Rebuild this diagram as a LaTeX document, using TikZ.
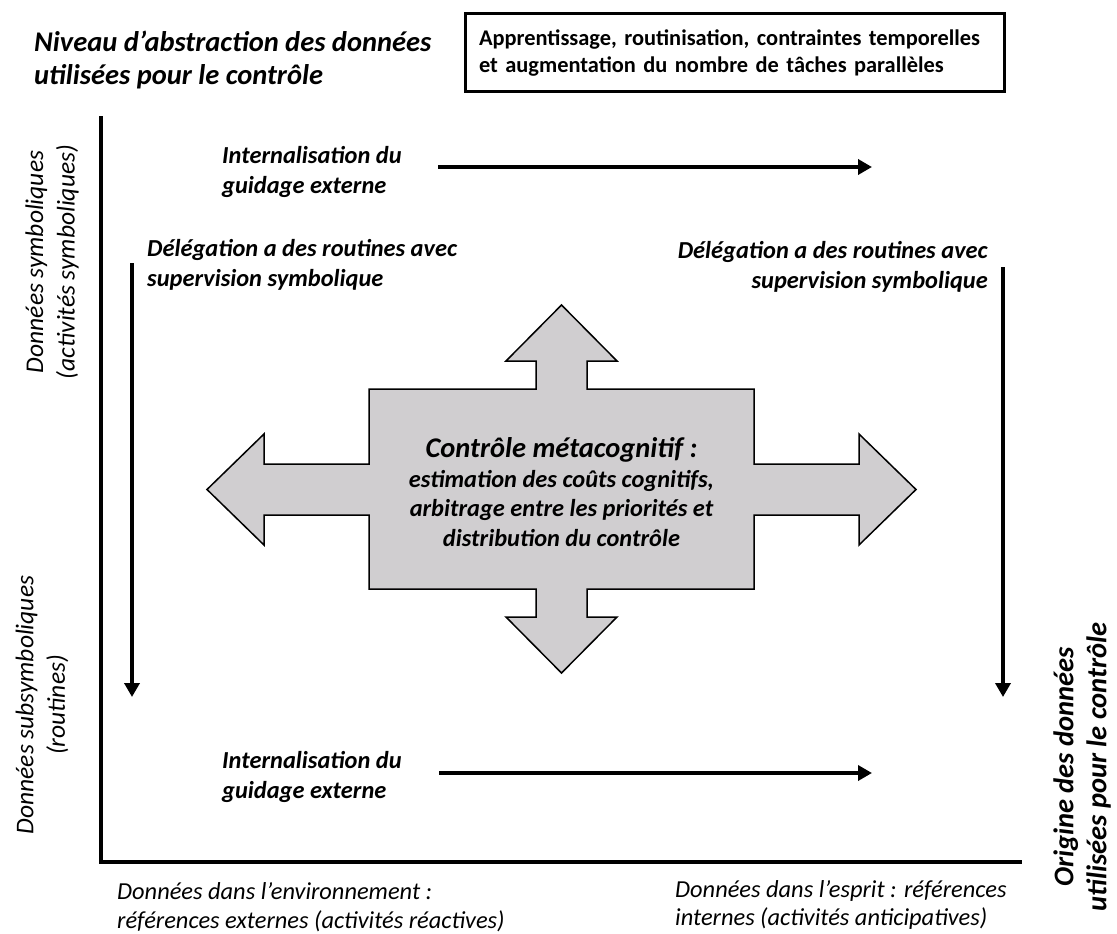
\documentclass[tikz,border=0pt]{standalone}
\usepackage{fontspec}
\setmainfont{Carlito}
\usetikzlibrary{arrows.meta}
\definecolor{crossgray}{RGB}{208,206,208}
\tikzset{
  lbl/.style={inner sep=0pt, font=\fontsize{24.4}{29.5}\selectfont\bfseries\itshape},
  axlbl/.style={inner sep=0pt, font=\fontsize{24.4}{28.5}\selectfont\itshape},
  rotlbl/.style={inner sep=0pt, rotate=90, align=center, font=\fontsize{25.5}{31.5}\selectfont\itshape},
  bigbi/.style={inner sep=0pt, font=\fontsize{28.5}{33}\selectfont\bfseries\itshape},
  flow/.style={line width=4pt, -{Triangle[length=14pt,width=15pt]}},
  axis/.style={line width=4pt},
}
\begin{document}
\begin{tikzpicture}[x=1pt,y=-1pt]
\useasboundingbox (0,0) rectangle (1117,934);
% title
\node[bigbi, anchor=west, align=left] (title) at (34,60) {Niveau d’abstraction des données\\utilisées pour le contrôle};
% box
\node[draw, line width=3pt, minimum width=539pt, minimum height=78pt, text width=511pt, inner xsep=14pt, align=left,
      font=\fontsize{22.4}{27}\selectfont\bfseries] (box) at (734.5,53)
      {Apprentissage, routinisation, contraintes temporelles\\et augmentation du nombre de tâches parallèles};
% axes
\coordinate (axtop) at (101,116);
\coordinate (axcorner) at (101,862);
\coordinate (axright) at (1022,862);
\draw[axis] (axtop) -- (axcorner) -- (axright);
% top internalisation
\node[lbl, anchor=west, align=left] (intTop) at (222,172) {Internalisation du\\guidage externe};
\coordinate (itS) at (438,167);
\coordinate (itE) at (872,167);
\draw[flow] (itS) -- (itE);
% delegation left
\node[lbl, anchor=west, align=left] (delL) at (147,265) {Délégation a des routines avec\\supervision symbolique};
\coordinate (dlS) at (132,263);
\coordinate (dlE) at (132,697);
\draw[flow] (dlS) -- (dlE);
% delegation right
\node[lbl, anchor=east, align=right] (delR) at (988,267) {Délégation a des routines avec\\supervision symbolique};
\coordinate (drS) at (1003,267);
\coordinate (drE) at (1003,697);
\draw[flow] (drS) -- (drE);
% bottom internalisation
\node[lbl, anchor=west, align=left] (intBot) at (222,777) {Internalisation du\\guidage externe};
\coordinate (ibS) at (439,773);
\coordinate (ibE) at (872,773);
\draw[flow] (ibS) -- (ibE);
% central cross arrow
\draw[line width=1.5pt, fill=crossgray, line join=miter]
  (369,389) -- (536,389) -- (536,361) -- (506,361) -- (561.5,305) -- (617,361) -- (587,361) -- (587,389)
  -- (754,389) -- (754,464) -- (859,464) -- (859,434) -- (916,489.5) -- (859,545) -- (859,515) -- (754,515)
  -- (754,589) -- (587,589) -- (587,617) -- (617,617) -- (561.5,673) -- (506,617) -- (536,617) -- (536,589)
  -- (369,589) -- (369,515) -- (264,515) -- (264,545) -- (207,489.5) -- (264,434) -- (264,464) -- (369,464) -- cycle;
\node[inner sep=0pt, align=center, font=\fontsize{24.4}{29.5}\selectfont\bfseries\itshape] (ctrl) at (561.5,492)
  {{\fontsize{28.5}{31}\selectfont Contrôle métacognitif :}\\estimation des coûts cognitifs,\\arbitrage entre les priorités et\\distribution du contrôle};
% axis labels
\node[rotlbl] (symb) at (52,262) {Données symboliques\\(activités symboliques)};
\node[rotlbl] (subsymb) at (42,705) {Données subsymboliques\\(routines)};
\node[axlbl, anchor=west, align=left] (envlbl) at (117,907) {Données dans l’environnement :\\références externes (activités réactives)};
\node[axlbl, anchor=west, align=left] (esplbl) at (675,905) {Données dans l’esprit : références\\internes (activités anticipatives)};
\node[bigbi, rotate=90, align=center] (origine) at (1082,767) {Origine des données\\utilisées pour le contrôle};
\end{tikzpicture}
\end{document}
